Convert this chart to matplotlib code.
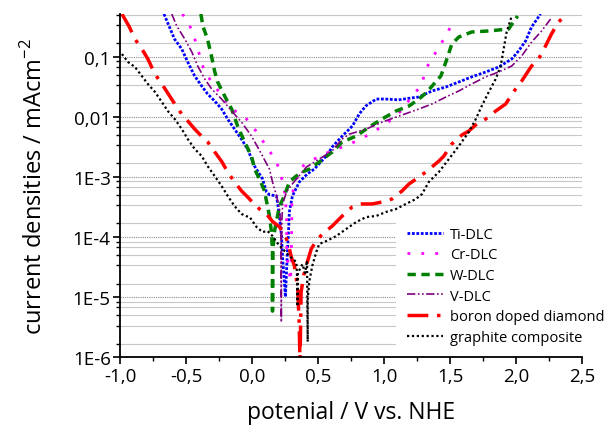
import numpy as np
import matplotlib
matplotlib.use("Agg")
import matplotlib.pyplot as plt
from matplotlib.ticker import FixedLocator, FixedFormatter, NullFormatter

# potential (V vs. NHE) / current density (mA cm^-2)
ti_x = [-0.67, -0.59, -0.535, -0.49, -0.437, -0.384, -0.339, -0.286, -0.233, -0.187,
        -0.135, -0.082, -0.036, 0.017, 0.077, 0.107, 0.13, 0.183, 0.206, 0.221, 0.229,
        0.251, 0.265, 0.275, 0.281, 0.304, 0.357, 0.417, 0.47, 0.56, 0.61, 0.68, 0.76,
        0.81, 0.86, 0.94, 1.01, 1.11, 1.21, 1.264, 1.362, 1.468, 1.566, 1.664, 1.77,
        1.868, 1.967, 2.02, 2.073, 2.118, 2.186]
ti_y = [0.51, 0.195, 0.133, 0.081, 0.0474, 0.0323, 0.0238, 0.0182, 0.0134, 0.0091,
        0.0062, 0.0042, 0.0029, 0.0015, 9.2e-4, 5.6e-4, 5.0e-4, 4.8e-4, 2.2e-4, 1.03e-4,
        4.8e-5, 1.0e-5, 5e-5, 1.3e-4, 2.6e-4, 4.8e-4, 8.2e-4, 1.11e-3, 1.34e-3, 2.2e-3,
        3.2e-3, 4.7e-3, 7.0e-3, 0.011, 0.015, 0.0196, 0.0196, 0.019, 0.0205, 0.0212,
        0.0267, 0.0311, 0.0377, 0.0458, 0.0552, 0.0668, 0.0908, 0.124, 0.182, 0.31, 0.51]

cr_x = [-0.53, -0.49, -0.452, -0.407, -0.369, -0.339, -0.172, -0.044, 0.032, 0.107,
        0.168, 0.206, 0.229, 0.25, 0.26, 0.262, 0.28, 0.29, 0.298, 0.30, 0.31, 0.33,
        0.357, 0.372, 0.433, 0.508, 0.584, 0.682, 0.773, 0.863, 0.916, 0.977, 1.014,
        1.12, 1.226, 1.279, 1.324, 1.362, 1.415, 1.468, 1.506, 1.529]
cr_y = [0.51, 0.375, 0.256, 0.119, 0.062, 0.0474, 0.0145, 0.0091, 0.0056, 0.0032,
        0.002, 0.00134, 8.2e-4, 4.8e-4, 2e-4, 4.8e-5, 2.6e-5, 1.8e-5, 1e-4, 3.5e-4,
        6e-4, 8.2e-4, 1.2e-3, 1.45e-3, 1.76e-3, 2.2e-3, 2.58e-3, 3.12e-3, 3.78e-3,
        4.75e-3, 5.55e-3, 6.71e-3, 7.53e-3, 0.012, 0.0238, 0.0323, 0.0668, 0.0908,
        0.144, 0.219, 0.321, 0.42]

w_x = [-0.39, -0.375, -0.34, -0.31, -0.286, -0.263, -0.21, -0.157, -0.112, -0.059,
       -0.006, 0.017, 0.054, 0.092, 0.115, 0.13, 0.145, 0.153, 0.153, 0.155, 0.17,
       0.206, 0.243, 0.281, 0.334, 0.395, 0.433, 0.508, 0.606, 0.682, 0.788, 0.886,
       0.984, 1.09, 1.188, 1.264, 1.324, 1.377, 1.43, 1.468, 1.513, 1.566, 1.664,
       1.793, 1.944, 1.97, 1.997, 2.012]
w_y = [0.51, 0.32, 0.195, 0.102, 0.057, 0.0377, 0.022, 0.0134, 0.007, 0.0038,
       0.0022, 0.00134, 9.2e-4, 5.8e-4, 3.25e-4, 2.22e-4, 1.2e-4, 5.6e-5, 5.8e-6, 6e-5,
       1.3e-4, 3.25e-4, 4.77e-4, 8.2e-4, 1.03e-3, 1.24e-3, 1.34e-3, 1.76e-3, 2.58e-3,
       3.78e-3, 4.75e-3, 6.71e-3, 9.12e-3, 0.0124, 0.015, 0.0196, 0.0256, 0.0349,
       0.0474, 0.081, 0.161, 0.211, 0.256, 0.266, 0.287, 0.347, 0.42, 0.472]

v_x = [-0.611, -0.573, -0.512, -0.459, -0.414, -0.361, -0.308, -0.233, -0.157, -0.082,
       -0.006, 0.06, 0.13, 0.153, 0.183, 0.206, 0.218, 0.22, 0.22, 0.225, 0.23, 0.259,
       0.304, 0.41, 0.508, 0.606, 0.682, 0.735, 0.863, 0.984, 1.112, 1.264, 1.362,
       1.468, 1.566, 1.664, 1.77, 1.868, 1.967, 2.043, 2.118, 2.194, 2.262]
v_y = [0.51, 0.321, 0.195, 0.119, 0.0695, 0.0423, 0.0288, 0.0196, 0.0124, 0.0081,
       0.00475, 0.0026, 0.00134, 8.2e-4, 4.8e-4, 2.9e-4, 1.35e-4, 3.8e-6, 5e-5, 2e-4,
       3.5e-4, 5.6e-4, 7.6e-4, 1.45e-3, 1.97e-3, 2.7e-3, 4.24e-3, 5.1e-3, 6.2e-3,
       8.1e-3, 0.0102, 0.0134, 0.0162, 0.0212, 0.0267, 0.0349, 0.0458, 0.0552,
       0.0695, 0.102, 0.174, 0.266, 0.42]

bdd_x = [-0.989, -0.936, -0.89, -0.837, -0.792, -0.739, -0.686, -0.588, -0.535, -0.49,
         -0.437, -0.384, -0.339, -0.286, -0.233, -0.187, -0.135, -0.082, -0.036, 0.0,
         0.054, 0.107, 0.153, 0.206, 0.259, 0.281, 0.296, 0.319, 0.334, 0.345, 0.35,
         0.355, 0.36, 0.362, 0.37, 0.39, 0.417, 0.447, 0.485, 0.531, 0.606, 0.682,
         0.757, 0.833, 0.909, 0.984, 1.06, 1.135, 1.188, 1.264, 1.317, 1.415, 1.453,
         1.513, 1.589, 1.642, 1.702, 1.77, 1.846, 1.921, 1.997, 2.043, 2.118, 2.171,
         2.224, 2.269, 2.322, 2.36, 2.38]
bdd_y = [0.51, 0.321, 0.195, 0.133, 0.0908, 0.0512, 0.0349, 0.0162, 0.011, 0.0085,
         0.0062, 0.0047, 0.0038, 0.0026, 0.0018, 0.0012, 8.2e-4, 5.8e-4, 4.6e-4, 3.8e-4,
         2.9e-4, 2.4e-4, 1.8e-4, 1.46e-4, 9.2e-5, 6.3e-5, 4.6e-5, 3.3e-5, 2e-5, 1.35e-5,
         7e-6, 3.8e-6, 1.2e-6, 9e-7, 1.2e-5, 2.3e-5, 3.8e-5, 6.3e-5, 8.5e-5, 1.11e-4,
         1.51e-4, 2.22e-4, 3.13e-4, 3.52e-4, 3.52e-4, 3.79e-4, 4.26e-4, 5.78e-4, 7.56e-4,
         9.9e-4, 1.2e-3, 1.82e-3, 2.21e-3, 3.5e-3, 4.94e-3, 5.76e-3, 7.53e-3, 9.12e-3,
         0.0124, 0.0162, 0.0288, 0.0391, 0.0695, 0.0908, 0.15, 0.237, 0.375, 0.45, 0.52]

gc_x = [-0.989, -0.943, -0.89, -0.837, -0.792, -0.739, -0.686, -0.641, -0.588, -0.535,
        -0.49, -0.437, -0.384, -0.339, -0.286, -0.233, -0.187, -0.135, -0.082, -0.044,
        -0.02, 0.032, 0.077, 0.115, 0.153, 0.183, 0.229, 0.281, 0.334, 0.34, 0.342,
        0.345, 0.38, 0.40, 0.415, 0.42, 0.42, 0.432, 0.455, 0.485, 0.508, 0.561, 0.637,
        0.712, 0.788, 0.863, 0.939, 1.014, 1.09, 1.165, 1.241, 1.287, 1.339, 1.415,
        1.491, 1.566, 1.642, 1.695, 1.74, 1.793, 1.846, 1.884, 1.906, 1.929, 1.967]
gc_y = [0.11, 0.081, 0.0668, 0.047, 0.0349, 0.0258, 0.0175, 0.0124, 0.0091, 0.0062,
        0.00424, 0.00289, 0.00221, 0.0015, 0.00103, 7.0e-4, 4.8e-4, 3.25e-4, 2.4e-4,
        2.2e-4, 2.13e-4, 1.46e-4, 1.2e-4, 1.25e-4, 1.03e-4, 8.2e-5, 6.3e-5, 4.8e-5,
        3.8e-5, 2e-5, 7e-6, 2.5e-5, 3.5e-5, 2.5e-5, 4e-5, 1.8e-6, 9e-6, 1.8e-5, 3.3e-5,
        5.6e-5, 7.6e-5, 8.5e-5, 1.03e-4, 1.35e-4, 1.76e-4, 2.13e-4, 2.22e-4, 2.59e-4,
        2.9e-4, 3.52e-4, 4.26e-4, 5.15e-4, 8.2e-4, 1.2e-3, 1.97e-3, 3.24e-3, 5.55e-3,
        9.1e-3, 0.015, 0.0256, 0.0423, 0.0695, 0.133, 0.256, 0.47]

x_ticks = [-1.0, -0.5, 0.0, 0.5, 1.0, 1.5, 2.0, 2.5]
x_labels = ["-1,0", "-0,5", "0,0", "0,5", "1,0", "1,5", "2,0", "2,5"]
y_ticks = [1e-6, 1e-5, 1e-4, 1e-3, 1e-2, 1e-1]
y_labels = ["1E-6", "1E-5", "1E-4", "1E-3", "0,01", "0,1"]

plt.rcParams["font.family"] = ["Open Sans", "DejaVu Sans"]

fig = plt.figure(figsize=(6.1, 4.27), dpi=100)
ax = fig.add_axes([0.1975, 0.1616, 0.7565, 0.8033])

ax.plot(ti_x, ti_y, color="#0000ff", lw=2.0, ls=(0, (1, 0.6)), label="Ti-DLC")
ax.plot(cr_x, cr_y, color="#ff00ff", lw=2.0, ls=(0, (1, 4)), label="Cr-DLC")
ax.plot(w_x, w_y, color="#008000", lw=2.5, ls=(0, (2.4, 1.6)), label="W-DLC")
ax.plot(v_x, v_y, color="#800080", lw=1.2, ls=(0, (5, 1.5, 1, 1.5, 1, 1.5)), label="V-DLC")
ax.plot(bdd_x, bdd_y, color="#ff0000", lw=2.5, ls=(0, (6, 2.5, 1, 2.5)), label="boron doped diamond")
ax.plot(gc_x, gc_y, color="black", lw=1.6, ls=(0, (1, 1.2)), label="graphite composite")

ax.set_yscale("log")
ax.set_xlim(-1.0, 2.5)
ax.set_ylim(1e-6, 0.51)

ax.xaxis.set_major_locator(FixedLocator(x_ticks))
ax.xaxis.set_major_formatter(FixedFormatter(x_labels))
ax.xaxis.set_minor_locator(FixedLocator(np.arange(-0.75, 2.5, 0.5)))
ax.yaxis.set_major_locator(FixedLocator(y_ticks))
ax.yaxis.set_major_formatter(FixedFormatter(y_labels))
minor_y = [10.0 ** d * k / 6 * 10 for d in range(-7, 0) for k in range(1, 6)]
ax.yaxis.set_minor_locator(FixedLocator(minor_y))
ax.yaxis.set_minor_formatter(NullFormatter())

ax.tick_params(which="major", direction="out", length=5, width=1.2, labelsize=13.5, pad=2)
ax.tick_params(which="minor", direction="out", length=3, width=1.0)
for s in ("top", "right"):
    ax.spines[s].set_visible(False)
for s in ("left", "bottom"):
    ax.spines[s].set_linewidth(1.3)

ax.grid(which="major", axis="y", color="#8c8c8c", lw=0.8, ls=(0, (1, 1)))
ax.grid(which="minor", axis="y", color="#c8c8c8", lw=0.8)
ax.set_axisbelow(True)

ax.set_xlabel("potenial / V vs. NHE", fontsize=16.5, labelpad=11)
ax.set_ylabel(r"current densities / mAcm$^{\mathregular{-2}}$", fontsize=17, labelpad=18)

leg = ax.legend(loc="upper left", bbox_to_anchor=(396 / 610, 1 - 217 / 427),
                bbox_transform=fig.transFigure, fontsize=10.5, frameon=True,
                facecolor="white", edgecolor="none", framealpha=1, fancybox=False,
                borderpad=0.75, handlelength=2.5, handletextpad=0.45, labelspacing=0.38,
                borderaxespad=0)

fig.savefig("out.png", dpi=100)
